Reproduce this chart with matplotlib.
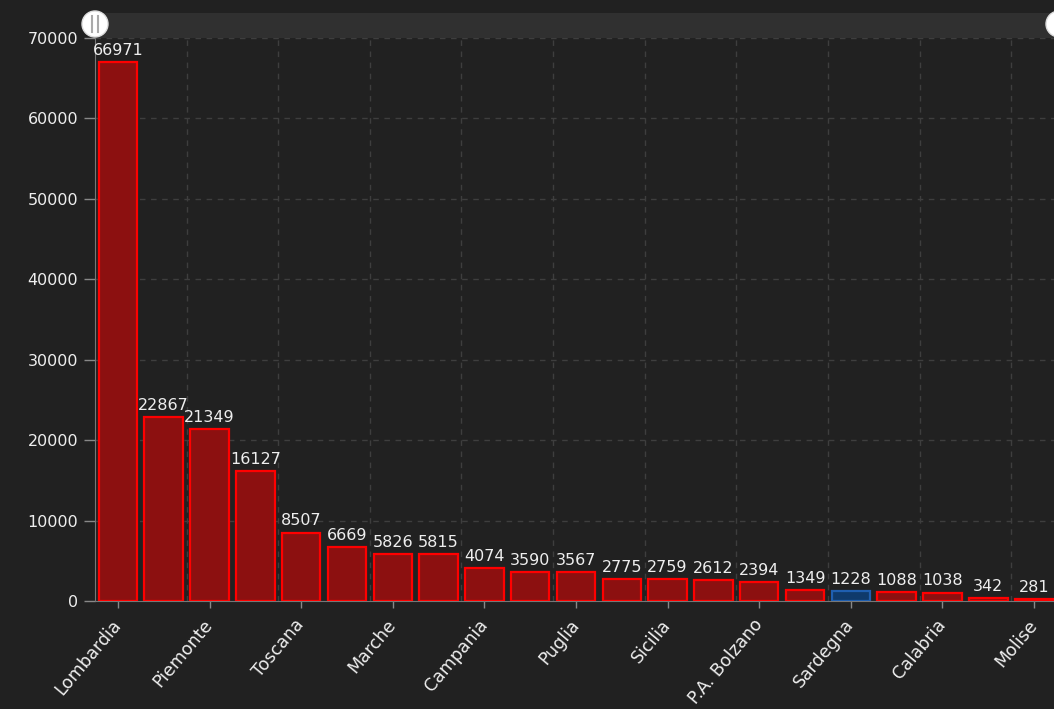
import matplotlib
matplotlib.use("Agg")
import matplotlib.pyplot as plt
from matplotlib.patches import Rectangle, Ellipse
from matplotlib.lines import Line2D

regions = ["Lombardia", "Emilia-Romagna", "Piemonte", "Veneto", "Toscana", "Liguria",
           "Marche", "Lazio", "Campania", "P.A. Trento", "Puglia", "Friuli Venezia Giulia",
           "Sicilia", "Abruzzo", "P.A. Bolzano", "Umbria", "Sardegna", "Valle d'Aosta",
           "Calabria", "Basilicata", "Molise"]
cases = [66971, 22867, 21349, 16127, 8507, 6669, 5826, 5815, 4074, 3590, 3567, 2775,
         2759, 2612, 2394, 1349, 1228, 1088, 1038, 342, 281]
highlight = "Sardegna"
y_ticks = [0, 10000, 20000, 30000, 40000, 50000, 60000, 70000]

BG = "#212121"
W, H = 1054, 709
fig = plt.figure(figsize=(W / 100, H / 100), dpi=100, facecolor=BG)
ax = fig.add_axes([95 / W, 1 - 601 / H, 962 / W, 563 / H], facecolor=BG)

x = list(range(len(regions)))
fills = ["#0f3a6b" if r == highlight else "#8c1010" for r in regions]
edges = ["#1f5fb0" if r == highlight else "#ff0000" for r in regions]
ax.bar(x, cases, width=0.84, color=fills, edgecolor=edges, linewidth=1.6, zorder=3)

for xi, v in zip(x, cases):
    ax.annotate(str(v), (xi, v), xytext=(0, 3), textcoords="offset points",
                ha="center", va="bottom", color="#eeeeee", fontsize=11.5, zorder=4,
                clip_on=False)

ax.set_xlim(-0.5, len(regions) - 0.5)
ax.set_ylim(0, 70000)

ax.set_yticks(y_ticks)
ax.set_yticklabels([str(t) for t in y_ticks])
ax.tick_params(axis="y", colors="#888888", labelcolor="#eeeeee", labelsize=11.5,
               length=8, width=1, pad=4)

lab_idx = x[::2]
ax.set_xticks(lab_idx)
ax.set_xticklabels([regions[i] for i in lab_idx], rotation=50, ha="right", va="center",
                   rotation_mode="anchor")
ax.tick_params(axis="x", colors="#888888", labelcolor="#eeeeee", labelsize=12.5,
               length=5, width=1, pad=10)

for s in ["top", "right"]:
    ax.spines[s].set_visible(False)
ax.spines["left"].set_color("#777777")
ax.spines["bottom"].set_color("#777777")

for t in y_ticks[1:]:
    ax.axhline(t, color="#3e3e3e", linestyle=(0, (4, 4)), linewidth=1, zorder=1)
for i in x[1::2]:
    ax.axvline(i + 0.5, color="#3e3e3e", linestyle=(0, (4, 4)), linewidth=1, zorder=1)

# data-zoom slider at the top
fig.patches.append(Rectangle((95 / W, 1 - 38 / H), (W - 95) / W, 25 / H,
                             transform=fig.transFigure, facecolor="#303030",
                             edgecolor="none", zorder=5))
for cx in (95, 1059):
    fig.patches.append(Ellipse((cx / W, 1 - 24 / H), 26 / W, 26 / H,
                               transform=fig.transFigure, facecolor="white",
                               edgecolor="#dddddd", zorder=6))
for lx in (92, 98):
    fig.lines.append(Line2D([lx / W, lx / W], [1 - 16 / H, 1 - 32 / H],
                            transform=fig.transFigure, color="#aaaaaa", linewidth=1.5,
                            zorder=7))

fig.savefig("out.png", dpi=100, facecolor=BG)
